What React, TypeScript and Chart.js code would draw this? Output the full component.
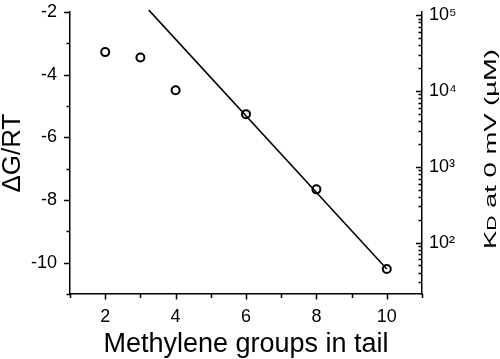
import React, { useEffect, useRef } from 'react';
import { Chart, registerables } from 'chart.js';

Chart.register(...registerables);

// ---- data ----
const methyleneGroups = [2, 3, 4, 6, 8, 10];
const deltaGOverRT = [-3.28, -3.45, -4.5, -5.26, -7.66, -10.2];
const fitX = [3.24, 10];
const fitY = [-1.94, -10.2];

const xTickLabels = ['2', '4', '6', '8', '10'];
const leftTickLabels = ['-2', '-4', '-6', '-8', '-10'];
const rightMajorTicks = [1e2, 1e3, 1e4, 1e5];
const rightTickLabels = ['10\u00B2', '10\u00B3', '10\u2074', '10\u2075'];
const rightMinorTicks = [
  30, 40, 50, 60, 70, 80, 90,
  200, 300, 400, 500, 600, 700, 800, 900,
  2000, 3000, 4000, 5000, 6000, 7000, 8000, 9000,
  20000, 30000, 40000, 50000, 60000, 70000, 80000, 90000,
];

const xTitle = 'Methylene groups in tail';
const leftTitle = '\u0394G/RT';
const rightTitleParts = ['K', 'D', ' at 0 mV (\u00B5M)'];

const FONT = '"Liberation Sans", Arial, Helvetica, sans-serif';

const zeroPad = (s: any) => {
  s.paddingTop = 0;
  s.paddingBottom = 0;
  s.paddingLeft = 0;
  s.paddingRight = 0;
};

const tickPlugin = {
  id: 'customTicks',
  afterDraw(chart: any) {
    const ctx = chart.ctx;
    const area = chart.chartArea;
    const xs = chart.scales.x;
    const ys = chart.scales.y;
    const y2 = chart.scales.y2;
    ctx.save();
    ctx.strokeStyle = '#000';
    ctx.lineWidth = 1.5;
    ctx.beginPath();
    // left axis ticks (outward)
    ys.ticks.forEach((t: any) => {
      const py = Math.round(ys.getPixelForValue(t.value)) + 0.5;
      const major = Math.abs(t.value) % 2 === 0;
      const len = major ? 6 : 3.5;
      ctx.moveTo(area.left - len, py);
      ctx.lineTo(area.left, py);
    });
    // bottom axis ticks (outward)
    xs.ticks.forEach((t: any) => {
      const px = Math.round(xs.getPixelForValue(t.value)) + 0.5;
      const major = t.value % 2 === 0;
      const len = major ? 5.5 : 4;
      ctx.moveTo(px, area.bottom);
      ctx.lineTo(px, area.bottom + len);
    });
    // right axis ticks (inward)
    y2.ticks.forEach((t: any) => {
      const py = Math.round(y2.getPixelForValue(t.value)) + 0.5;
      const major = rightMajorTicks.includes(t.value);
      const len = major ? 6 : 3.5;
      ctx.moveTo(area.right, py);
      ctx.lineTo(area.right - len, py);
    });
    ctx.stroke();

    // right axis title (reads bottom to top)
    const sizes = [17, 13, 17];
    let total = 0;
    const widths = rightTitleParts.map((p, i) => {
      ctx.font = `${sizes[i]}px ${FONT}`;
      const w = ctx.measureText(p).width;
      total += w;
      return w;
    });
    const startY = 249;
    const endY = 49;
    const stretch = (startY - endY) / total;
    ctx.translate(495.5, startY);
    ctx.rotate(-Math.PI / 2);
    ctx.scale(stretch, 1);
    ctx.fillStyle = '#000';
    ctx.textBaseline = 'alphabetic';
    ctx.textAlign = 'left';
    let cx = 0;
    rightTitleParts.forEach((p, i) => {
      ctx.font = `${sizes[i]}px ${FONT}`;
      ctx.fillText(p, cx, 0);
      cx += widths[i];
    });
    ctx.restore();
  },
};

export default function App() {
  const canvasRef = useRef<HTMLCanvasElement | null>(null);

  useEffect(() => {
    if (!canvasRef.current) return;
    Chart.defaults.font.family = FONT;
    Chart.defaults.color = '#000';

    const chart = new Chart(canvasRef.current, {
      type: 'scatter',
      data: {
        datasets: [
          {
            label: 'fit',
            data: fitX.map((x, i) => ({ x, y: fitY[i] })),
            showLine: true,
            borderColor: '#000',
            borderWidth: 1.5,
            pointRadius: 0,
            fill: false,
            clip: false as any,
            yAxisID: 'y',
          },
          {
            label: 'data',
            data: methyleneGroups.map((x, i) => ({ x, y: deltaGOverRT[i] })),
            showLine: false,
            pointStyle: 'circle',
            pointRadius: 4,
            pointBorderWidth: 2,
            pointBackgroundColor: 'rgba(255,255,255,0)',
            pointBorderColor: '#000',
            borderColor: '#000',
            clip: false as any,
            yAxisID: 'y',
          },
        ],
      },
      options: {
        animation: false,
        responsive: false,
        devicePixelRatio: 1,
        layout: { padding: { top: 12, left: 0, right: 0, bottom: 0 } },
        plugins: {
          legend: { display: false },
          tooltip: { enabled: false },
        },
        scales: {
          x: {
            type: 'linear',
            position: 'bottom',
            min: 1,
            max: 11,
            bounds: 'data',
            afterFit: (s: any) => { s.height = 65; zeroPad(s); },
            ticks: {
              stepSize: 1,
              autoSkip: false,
              maxRotation: 0,
              padding: 12,
              font: { size: 18 },
              color: '#000',
              callback: (v: any) => (xTickLabels.includes(String(v)) ? String(v) : ''),
            },
            grid: { display: true, drawOnChartArea: false, drawTicks: false },
            border: { display: true, color: '#000', width: 1.5 },
            title: {
              display: true,
              text: xTitle,
              color: '#000',
              font: { size: 27, lineHeight: 1 },
              padding: { top: 0, bottom: 1 },
            },
          },
          y: {
            type: 'linear',
            position: 'left',
            min: -11,
            max: -2,
            bounds: 'data',
            afterFit: (s: any) => { s.width = 70; zeroPad(s); },
            ticks: {
              stepSize: 1,
              autoSkip: false,
              padding: 13,
              font: { size: 18 },
              color: '#000',
              callback: (v: any) => (leftTickLabels.includes(String(v)) ? String(v) : ''),
            },
            grid: { display: true, drawOnChartArea: false, drawTicks: false },
            border: { display: true, color: '#000', width: 1.5 },
            title: {
              display: true,
              text: leftTitle,
              color: '#000',
              font: { size: 26, lineHeight: 1 },
              padding: { top: 0, bottom: 0 },
            },
          },
          y2: {
            type: 'logarithmic',
            position: 'right',
            min: 21,
            max: 110000,
            bounds: 'data',
            afterFit: (s: any) => { s.width = 78; zeroPad(s); },
            afterBuildTicks: (s: any) => {
              const vals = [...rightMinorTicks, ...rightMajorTicks].sort((a, b) => a - b);
              s.ticks = vals.map((v) => ({ value: v, major: rightMajorTicks.includes(v) }));
            },
            ticks: {
              autoSkip: false,
              padding: 7,
              font: { size: 18 },
              color: '#000',
              callback: (v: any) => {
                const i = rightMajorTicks.indexOf(Number(v));
                return i >= 0 ? rightTickLabels[i] : '';
              },
            },
            grid: { display: true, drawOnChartArea: false, drawTicks: false },
            border: { display: true, color: '#000', width: 1.5 },
          },
        },
      } as any,
      plugins: [tickPlugin],
    });

    return () => chart.destroy();
  }, []);

  return (
    <div style={{ position: 'fixed', left: 0, top: 0, width: 500, height: 359, background: '#fff' }}>
      <canvas ref={canvasRef} width={500} height={359} style={{ display: 'block', width: 500, height: 359 }} />
    </div>
  );
}
